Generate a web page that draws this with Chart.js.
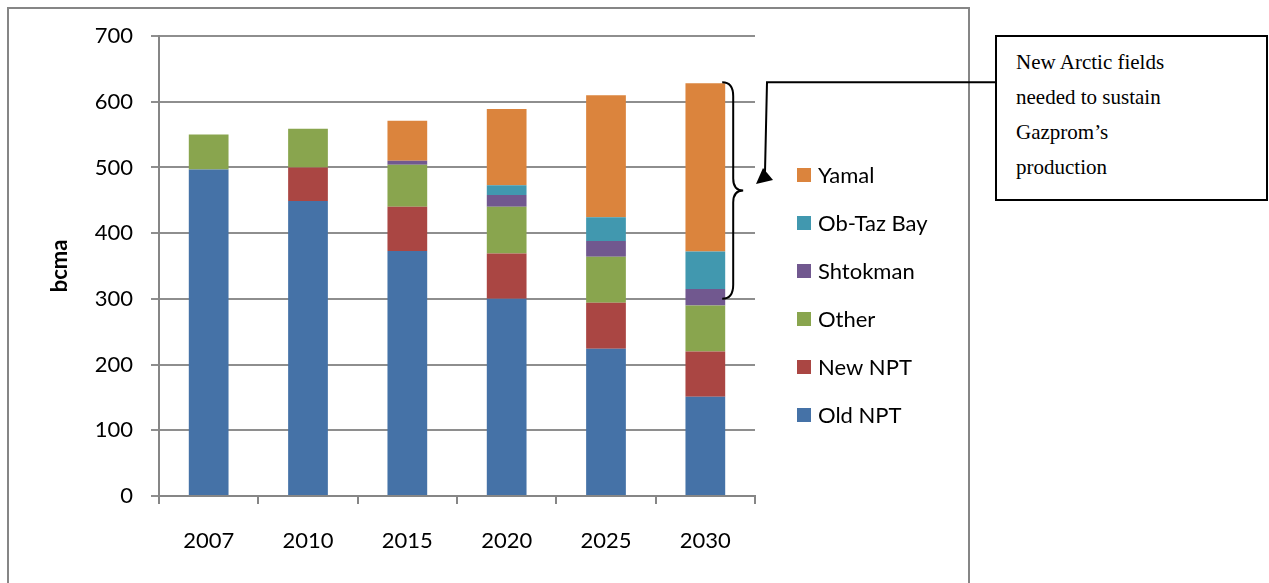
<!DOCTYPE html>
<html>
<head>
<meta charset="utf-8">
<script src="https://cdn.jsdelivr.net/npm/chart.js@4.4.1/dist/chart.umd.min.js"></script>
<style>
  html, body { margin: 0; padding: 0; background: #fff; overflow: hidden; }
  #wrap { position: relative; width: 1269px; height: 583px; }
  #note {
    position: absolute; left: 995px; top: 35px;
    width: 250px; height: 154px;
    padding: 8px 0 0 19px;
    border: 2px solid #000; background: #fff;
    font: 21px/35px "Liberation Serif", "Times New Roman", serif; color: #000;
  }
</style>
</head>
<body>
<div id="wrap">
  <canvas id="gasChart" width="1269" height="583"></canvas>
  <div id="note">New Arctic fields<br>needed to sustain<br>Gazprom’s<br>production</div>
</div>
<script>
// data (bcma)
const years = ['2007', '2010', '2015', '2020', '2025', '2030'];
const oldNpt = [497, 449, 373, 300, 224, 151];
const newNpt = [0, 51, 67, 69, 70, 69];
const other = [53, 59, 64, 71, 70, 70];
const shtokman = [0, 0, 6, 18, 24, 25];
const obTazBay = [0, 0, 0, 15, 36, 57];
const yamal = [0, 0, 61, 116, 186, 256];

const yMax = 700;
const yStep = 100;
// brace spans the Arctic fields of the last year
const braceBottom = 300;

const axisGrey = '#868686';
const font = { family: 'Lato', size: 22 };

// outer chart frame
const framePlugin = {
    id: 'frame',
    beforeDraw(chart) {
        const ctx = chart.ctx;
        ctx.save();
        ctx.strokeStyle = axisGrey;
        ctx.lineWidth = 2;
        ctx.strokeRect(8, 8, 961, 640);
        ctx.restore();
    }
};

// legend on the right, top series first
const legendPlugin = {
    id: 'sideLegend',
    afterDraw(chart) {
        const ctx = chart.ctx;
        const sets = chart.data.datasets.slice().reverse();
        ctx.save();
        ctx.font = '22px Lato';
        ctx.textBaseline = 'middle';
        sets.forEach((ds, i) => {
            const y = 175 + i * 48;
            ctx.fillStyle = ds.backgroundColor;
            ctx.fillRect(797, y - 7, 14, 14);
            ctx.fillStyle = '#000';
            ctx.fillText(ds.label, 818, y + 1);
        });
        ctx.restore();
    }
};

// curly brace and arrow from the text box
const bracePlugin = {
    id: 'brace',
    afterDatasetsDraw(chart) {
        const ctx = chart.ctx;
        const yScale = chart.scales.y;
        const last = years.length - 1;
        const total = oldNpt[last] + newNpt[last] + other[last] + shtokman[last] + obTazBay[last] + yamal[last];
        const bar = chart.getDatasetMeta(chart.data.datasets.length - 1).data[last];
        const x0 = bar.x + bar.width / 2 - 3;
        const top = yScale.getPixelForValue(total) - 1;
        const bottom = yScale.getPixelForValue(braceBottom);
        const mid = (top + bottom) / 2;
        const sx = x0 + 11;
        const tx = x0 + 21;

        ctx.save();
        ctx.strokeStyle = '#000';
        ctx.fillStyle = '#000';
        ctx.lineWidth = 2;
        ctx.beginPath();
        ctx.moveTo(x0, top);
        ctx.quadraticCurveTo(sx, top, sx, top + 14);
        ctx.lineTo(sx, mid - 12);
        ctx.quadraticCurveTo(sx, mid, tx, mid);
        ctx.quadraticCurveTo(sx, mid, sx, mid + 12);
        ctx.lineTo(sx, bottom - 14);
        ctx.quadraticCurveTo(sx, bottom, x0, bottom);
        ctx.stroke();

        ctx.beginPath();
        ctx.moveTo(996, top);
        ctx.lineTo(767, top);
        ctx.lineTo(765, 172);
        ctx.stroke();

        ctx.beginPath();
        ctx.moveTo(756, 184);
        ctx.lineTo(763, 168);
        ctx.lineTo(773, 180);
        ctx.closePath();
        ctx.fill();
        ctx.restore();
    }
};

new Chart(document.getElementById('gasChart').getContext('2d'), {
    type: 'bar',
    data: {
        labels: years,
        datasets: [
            { label: 'Old NPT', data: oldNpt, backgroundColor: '#4572A7' },
            { label: 'New NPT', data: newNpt, backgroundColor: '#AA4643' },
            { label: 'Other', data: other, backgroundColor: '#89A54E' },
            { label: 'Shtokman', data: shtokman, backgroundColor: '#71588F' },
            { label: 'Ob-Taz Bay', data: obTazBay, backgroundColor: '#4198AF' },
            { label: 'Yamal', data: yamal, backgroundColor: '#DB843D' }
        ]
    },
    options: {
        responsive: false,
        animation: false,
        devicePixelRatio: 1,
        barPercentage: 0.4,
        categoryPercentage: 1,
        layout: { padding: { left: 0, top: 36, right: 514, bottom: 0 } },
        plugins: {
            legend: { display: false },
            tooltip: { enabled: false }
        },
        scales: {
            x: {
                stacked: true,
                afterFit: (scale) => { scale.height = 87; },
                grid: { drawOnChartArea: false, drawTicks: true, tickLength: 8, color: axisGrey, lineWidth: 2, offset: true },
                border: { color: axisGrey, width: 2 },
                ticks: { font: font, color: '#000', padding: 24 }
            },
            y: {
                stacked: true,
                min: 0,
                max: yMax,
                afterFit: (scale) => { scale.width = 159; },
                grid: { color: '#8e8e8e', lineWidth: 2, tickLength: 8 },
                border: { color: axisGrey, width: 2 },
                ticks: { stepSize: yStep, font: font, color: '#000', padding: 18 },
                title: {
                    display: true,
                    text: 'bcma',
                    color: '#000',
                    font: { family: 'Lato', size: 22, weight: 'bold' },
                    padding: { top: 47, bottom: 0 }
                }
            }
        }
    },
    plugins: [framePlugin, legendPlugin, bracePlugin]
});
</script>
</body>
</html>
